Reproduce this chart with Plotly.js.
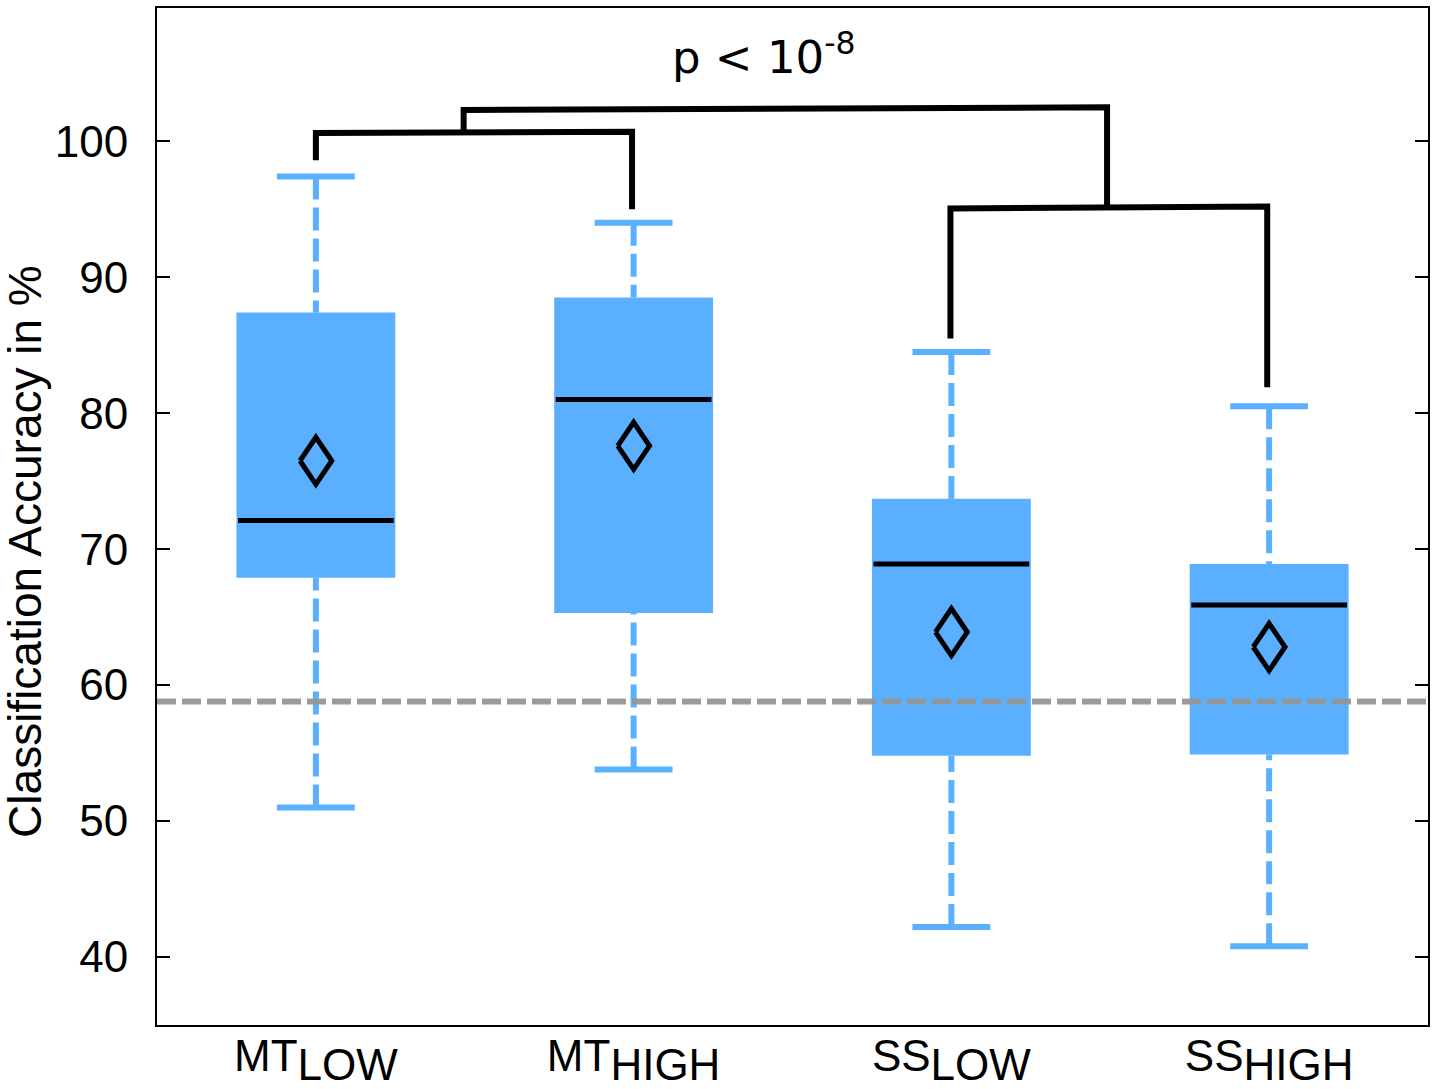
<!DOCTYPE html>
<html>
<head>
<meta charset="utf-8">
<script src="https://cdn.plot.ly/plotly-3.0.1.min.js"></script>
<style>html,body{margin:0;padding:0;background:#fff;}</style>
</head>
<body>
<div id="chart" style="width:1437px;height:1089px;"></div>
<script>
// ---- data ----
const categories = ["MT<sub><span style=\"font-size:44px\">LOW</span></sub>",
                    "MT<sub><span style=\"font-size:44px\">HIGH</span></sub>",
                    "SS<sub><span style=\"font-size:44px\">LOW</span></sub>",
                    "SS<sub><span style=\"font-size:44px\">HIGH</span></sub>"];
const lowerWhisker = [51.0, 53.8, 42.2, 40.8];
const q1           = [67.9, 65.3, 54.8, 54.9];
const median       = [72.1, 81.0, 68.9, 65.9];
const q3           = [87.4, 88.5, 73.7, 68.9];
const upperWhisker = [97.4, 94.0, 84.5, 80.5];
const mean         = [76.5, 77.6, 63.9, 62.8];
const chanceLevel  = 58.8;
const yTicks       = [40, 50, 60, 70, 80, 90, 100];
// significance brackets (x in category index units, y in %)
const bracketMT_x  = [0, 0, 0.995, 0.995];
const bracketMT_y  = [98.6, 100.6, 100.7, 95.0];
const bracketSS_x  = [1.997, 1.997, 2.994, 2.994];
const bracketSS_y  = [85.5, 95.05, 95.2, 81.9];
const bracketTop_x = [0.465, 0.465, 2.49, 2.49];
const bracketTop_y = [100.6, 102.3, 102.5, 95.1];
const pText = "p &lt; 10<sup>-8</sup>";

// ---- styles ----
const BLUE = "rgb(90,175,255)";
const BOX_W = 0.5, CAP_W = 0.245, MED_W = 0.49;
const DIAM_HW = 0.05, DIAM_HH = 1.73;

const xs = categories.map((_, i) => i);
const traces = [];

// boxes
traces.push({type: "bar", x: xs, base: q1, y: q3.map((v, i) => v - q1[i]),
  width: BOX_W, marker: {color: BLUE, line: {width: 0}}, hoverinfo: "skip"});

// whiskers (dashed)
const wx = [], wy = [];
xs.forEach(i => {
  wx.push(i, i, null, i, i, null);
  wy.push(upperWhisker[i], q3[i], null, lowerWhisker[i], q1[i], null);
});
traces.push({type: "scatter", mode: "lines", x: wx, y: wy,
  line: {color: BLUE, width: 6, dash: "23px,8px"}, hoverinfo: "skip"});

// caps
const cx = [], cy = [];
xs.forEach(i => {
  cx.push(i - CAP_W / 2, i + CAP_W / 2, null, i - CAP_W / 2, i + CAP_W / 2, null);
  cy.push(upperWhisker[i], upperWhisker[i], null, lowerWhisker[i], lowerWhisker[i], null);
});
traces.push({type: "scatter", mode: "lines", x: cx, y: cy,
  line: {color: BLUE, width: 6}, hoverinfo: "skip"});

// medians
const mx = [], my = [];
xs.forEach(i => { mx.push(i - MED_W / 2, i + MED_W / 2, null); my.push(median[i], median[i], null); });
traces.push({type: "scatter", mode: "lines", x: mx, y: my,
  line: {color: "black", width: 5}, hoverinfo: "skip"});

// means (diamonds)
const dx = [], dy = [];
xs.forEach(i => {
  dx.push(i - DIAM_HW, i, i + DIAM_HW, i, i - DIAM_HW, null);
  dy.push(mean[i], mean[i] + DIAM_HH, mean[i], mean[i] - DIAM_HH, mean[i], null);
});
traces.push({type: "scatter", mode: "lines", x: dx, y: dy,
  line: {color: "black", width: 5, shape: "linear"}, hoverinfo: "skip"});

// brackets
[[bracketMT_x, bracketMT_y], [bracketSS_x, bracketSS_y], [bracketTop_x, bracketTop_y]].forEach(b => {
  traces.push({type: "scatter", mode: "lines", x: b[0], y: b[1],
    line: {color: "black", width: 6}, hoverinfo: "skip"});
});

const layout = {
  width: 1437, height: 1089,
  margin: {l: 157, r: 9, t: 8, b: 64, pad: 0},
  paper_bgcolor: "white", plot_bgcolor: "white",
  showlegend: false,
  font: {family: "Liberation Sans, Arial, sans-serif", color: "black", size: 44},
  xaxis: {
    range: [-0.5, 3.5], tickvals: xs, ticktext: categories,
    showgrid: false, zeroline: false, showline: true, mirror: true,
    linecolor: "black", linewidth: 2, ticks: "", tickfont: {size: 44},
    ticklabelstandoff: -9,
    fixedrange: true
  },
  yaxis: {
    range: [35, 109.8], tickvals: yTicks, ticktext: yTicks.map(String),
    showgrid: false, zeroline: false, showline: true, mirror: "ticks",
    linecolor: "black", linewidth: 2, ticks: "inside", ticklen: 13, tickwidth: 2,
    tickcolor: "black", tickfont: {size: 44}, ticklabelstandoff: 18,
    fixedrange: true
  },
  shapes: [{
    type: "line", xref: "paper", x0: 0, x1: 1, yref: "y", y0: chanceLevel, y1: chanceLevel,
    line: {color: "rgba(150,150,150,0.95)", width: 6, dash: "19px,6px"}, layer: "above"
  }],
  annotations: [
    {text: "Classification Accuracy in %", textangle: -90, xref: "paper", yref: "paper",
     x: -0.104, y: 0.466, xanchor: "center", yanchor: "middle", showarrow: false,
     font: {size: 46, family: "Liberation Sans, Arial, sans-serif"}},
    {text: pText, xref: "x", yref: "y", x: 1.41, y: 106.4, xanchor: "center", yanchor: "middle",
     showarrow: false, font: {size: 45, family: "DejaVu Sans, Verdana, sans-serif"}}
  ]
};

Plotly.newPlot("chart", traces, layout, {displayModeBar: false, staticPlot: true});
</script>
</body>
</html>
